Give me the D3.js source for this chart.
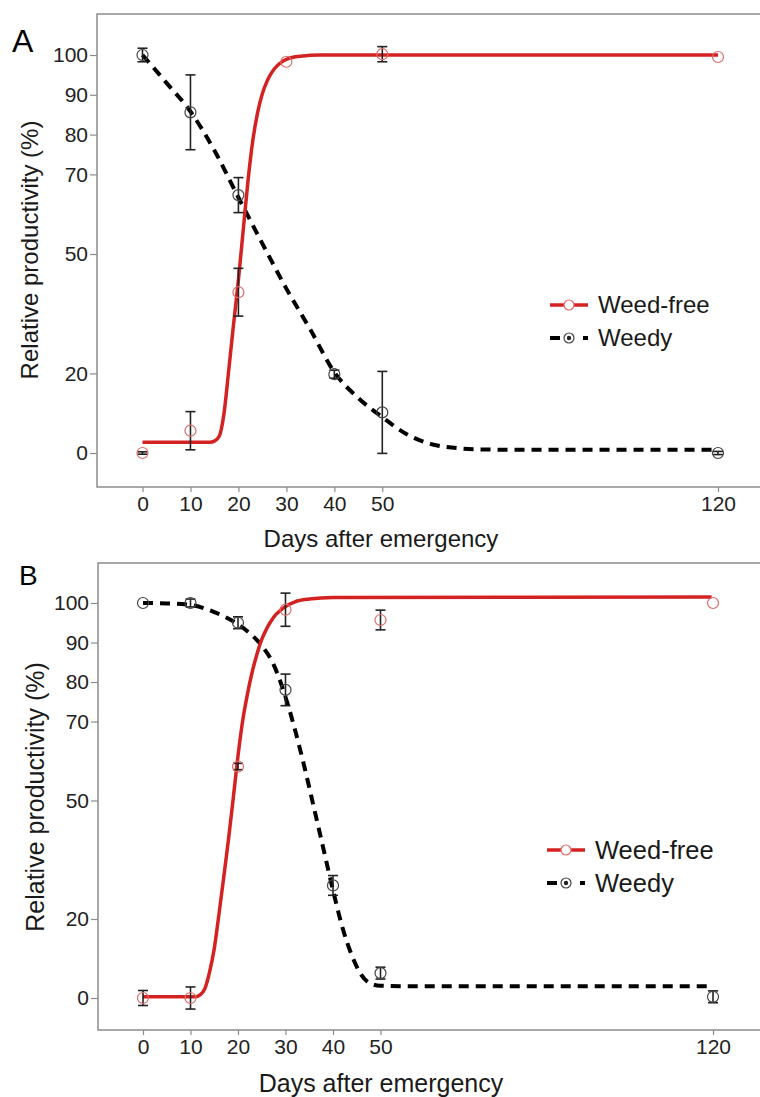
<!DOCTYPE html>
<html lang="en">
<head>
<meta charset="UTF-8" />
<title>Relative productivity</title>
<script src="https://d3js.org/d3.v7.min.js"></script>
<style>
  body { margin: 0; background: #fff; }
  svg { display: block; font-family: "Liberation Sans", Arial, sans-serif; }
</style>
</head>
<body>
<script>
// observed days and tick values
var days = [0, 10, 20, 30, 40, 50, 120];
var xTicks = [0, 10, 20, 30, 40, 50, 120];
var yTicks = [0, 20, 50, 70, 80, 90, 100];
var seriesNames = ["Weed-free", "Weedy"];

// panel A: means and error (half-length of bar)
var freeA = [0, 5.6, 40.4, 98.3, null, 100.2, 99.5];
var freeAErr = [0.3, 4.8, 6, 0, null, 1.9, 0];
var weedyA = [100, 85.6, 64.8, null, 19.8, 10.2, 0];
var weedyAErr = [1.7, 9.4, 4.4, null, 1, 10.3, 0.4];

// panel B
var freeB = [0, 0, 58.6, 98.3, null, 95.7, 100];
var freeBErr = [1.9, 2.8, 0.8, 4.2, null, 2.5, 0];
var weedyB = [100, 100, 95, 78, 28.5, 6.3, 0.3];
var weedyBErr = [0, 1, 1.5, 4, 2.5, 1.5, 1.5];

// fitted curves as [day, value]
var fitFreeA = [[0,2.7],[14,2.7],[15,3],[16,4.2],[17,10],[18,21],[19,32.5],[20,43.5],[21,56],[22,68.4],
  [23,78.5],[24,85.5],[25,90.3],[26,93.5],[27,95.7],[28,97.2],[29,98.2],[30,98.9],[33,99.7],[37,100],[120,100]];
var fitWeedyA = [[0,100],[5,93],[10,85.8],[15,76],[20,64.2],[25,52.6],[30,41.3],[35,31],[40,20.3],[45,13.8],
  [50,9],[55,4.8],[60,2.3],[65,1.3],[70,0.9],[80,0.8],[120,0.8]];
var fitFreeB = [[0,0.3],[11,0.3],[12,0.8],[13,2.3],[14,6.5],[15,12.5],[16,21.3],[17,30.6],[18,40.2],[19,50.6],
  [20,61.3],[21,70.3],[22,77],[23,82.6],[24,87.1],[25,90.8],[26,93.4],[27,95.5],[28,97.1],[29,98.2],[30,99.1],
  [32,100.3],[35,101],[40,101.4],[119.7,101.5]];
var fitWeedyB = [[0,100],[5,99.9],[10,99.5],[15,97.7],[20,94.6],[22.5,92.3],[25,89.2],[27.5,84.4],[30,76.2],
  [32,67.9],[34,58.4],[36,48.1],[38,37.7],[40,27.3],[42,17.8],[44,10.7],[46,5.8],[48,3.6],[50,3.1],[55,3],[119.7,3]];

var red = "#d42222";
var redPt = "#dd6a6a";

var svg = d3.select("body").append("svg")
  .attr("width", 760)
  .attr("height", 1097);

function drawPanel(p) {
  var x = d3.scaleLinear().domain([0, 120]).range(p.xr);
  var y = d3.scaleLinear().domain([0, 100]).range(p.yr);
  var g = svg.append("g");

  // frame (right side runs off the picture)
  g.append("path")
    .attr("d", "M780," + p.top + "H" + p.left + "V" + p.bottom + "H780")
    .attr("fill", "none")
    .attr("stroke", "#8c8c8c")
    .attr("stroke-width", 1.5);

  var ya = g.append("g")
    .attr("transform", "translate(" + p.left + ",0)")
    .call(d3.axisLeft(y).tickValues(yTicks).tickSize(7).tickPadding(2));
  var xa = g.append("g")
    .attr("transform", "translate(0," + p.bottom + ")")
    .call(d3.axisBottom(x).tickValues(xTicks).tickSize(5).tickPadding(4));
  [ya, xa].forEach(function (a) {
    a.select(".domain").remove();
    a.selectAll(".tick line").attr("stroke", "#8c8c8c").attr("stroke-width", 1.2);
    a.selectAll(".tick text")
      .attr("fill", "#222")
      .attr("font-size", p.tickSize + "px")
      .attr("font-family", "'Liberation Sans', Arial, sans-serif");
  });

  // titles
  g.append("text")
    .attr("x", p.xTitle[0]).attr("y", p.xTitle[1])
    .attr("text-anchor", "middle")
    .attr("font-size", p.titleSize + "px")
    .attr("fill", "#1a1a1a")
    .text("Days after emergency");
  g.append("text")
    .attr("transform", "translate(" + p.yTitle[0] + "," + p.yTitle[1] + ") rotate(-90)")
    .attr("text-anchor", "middle")
    .attr("font-size", p.titleSize + "px")
    .attr("fill", "#1a1a1a")
    .text("Relative productivity (%)");
  g.append("text")
    .attr("x", p.letterPos[0]).attr("y", p.letterPos[1])
    .attr("font-size", p.letterSize + "px")
    .attr("fill", "#000")
    .text(p.letter);

  var line = d3.line()
    .x(function (d) { return x(d[0]); })
    .y(function (d) { return y(d[1]); })
    .curve(d3.curveMonotoneX);

  g.append("path")
    .datum(p.fitWeedy)
    .attr("d", line)
    .attr("fill", "none")
    .attr("stroke", "#000")
    .attr("stroke-width", 4)
    .attr("stroke-dasharray", "10,7");
  g.append("path")
    .datum(p.fitFree)
    .attr("d", line)
    .attr("fill", "none")
    .attr("stroke", red)
    .attr("stroke-width", 3.5);

  function points(vals, errs, color) {
    var pts = days.map(function (d, i) { return { d: d, v: vals[i], e: errs[i] }; })
      .filter(function (o) { return o.v !== null; });
    var bars = pts.filter(function (o) { return o.e > 0; });
    var eb = g.append("g").attr("stroke", "#222").attr("stroke-width", 1.6);
    eb.selectAll(".v").data(bars).enter().append("line")
      .attr("x1", function (o) { return x(o.d); })
      .attr("x2", function (o) { return x(o.d); })
      .attr("y1", function (o) { return y(o.v - o.e); })
      .attr("y2", function (o) { return y(o.v + o.e); });
    [-1, 1].forEach(function (s) {
      eb.selectAll(".c" + s).data(bars).enter().append("line")
        .attr("x1", function (o) { return x(o.d) - 5; })
        .attr("x2", function (o) { return x(o.d) + 5; })
        .attr("y1", function (o) { return y(o.v + s * o.e); })
        .attr("y2", function (o) { return y(o.v + s * o.e); });
    });
    g.selectAll(null).data(pts).enter().append("circle")
      .attr("cx", function (o) { return x(o.d); })
      .attr("cy", function (o) { return y(o.v); })
      .attr("r", 5.5)
      .attr("fill", "none")
      .attr("stroke", color)
      .attr("stroke-width", 1.2);
  }
  points(p.weedy, p.weedyErr, "#444");
  points(p.free, p.freeErr, redPt);

  // legend
  var lg = g.append("g").attr("transform", "translate(" + p.legend[0] + "," + p.legend[1] + ")");
  lg.append("line").attr("x1", 0).attr("x2", 38).attr("y1", 0).attr("y2", 0)
    .attr("stroke", red).attr("stroke-width", 3.5);
  lg.append("circle").attr("cx", 19).attr("cy", 0).attr("r", 5)
    .attr("fill", "#fff").attr("stroke", redPt).attr("stroke-width", 1.2);
  lg.append("line").attr("x1", 0).attr("x2", 38).attr("y1", p.legendGap).attr("y2", p.legendGap)
    .attr("stroke", "#000").attr("stroke-width", 4).attr("stroke-dasharray", "10,23,5");
  lg.append("circle").attr("cx", 19).attr("cy", p.legendGap).attr("r", 5)
    .attr("fill", "#fff").attr("stroke", "#444").attr("stroke-width", 1.2);
  lg.append("circle").attr("cx", 19).attr("cy", p.legendGap).attr("r", 2.2).attr("fill", "#222");
  lg.selectAll("text").data(seriesNames).enter().append("text")
    .attr("x", 48)
    .attr("y", function (d, i) { return i * p.legendGap; })
    .attr("dy", "0.35em")
    .attr("font-size", p.legendSize + "px")
    .attr("fill", "#1a1a1a")
    .text(function (d) { return d; });
}

drawPanel({
  letter: "A", letterPos: [12, 52], letterSize: 32,
  left: 97, top: 14, bottom: 487,
  xr: [142.5, 718], yr: [453, 55],
  tickSize: 21, titleSize: 24, legendSize: 24,
  xTitle: [381, 547], yTitle: [38, 250],
  legend: [550, 305], legendGap: 33,
  free: freeA, freeErr: freeAErr, weedy: weedyA, weedyErr: weedyAErr,
  fitFree: fitFreeA, fitWeedy: fitWeedyA
});

drawPanel({
  letter: "B", letterPos: [19, 585], letterSize: 28,
  left: 98, top: 563, bottom: 1030,
  xr: [143, 713], yr: [998, 603],
  tickSize: 21, titleSize: 25, legendSize: 25.5,
  xTitle: [381, 1092], yTitle: [44, 797],
  legend: [547, 850], legendGap: 33,
  free: freeB, freeErr: freeBErr, weedy: weedyB, weedyErr: weedyBErr,
  fitFree: fitFreeB, fitWeedy: fitWeedyB
});
</script>
</body>
</html>
